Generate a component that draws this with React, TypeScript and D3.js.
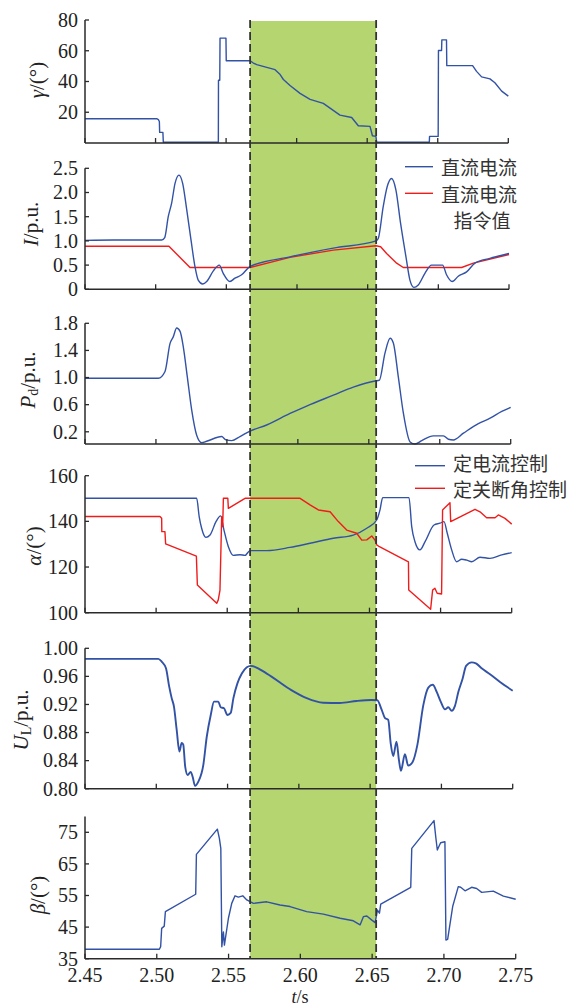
import React from 'react';
import * as d3 from 'd3';

// time axis
const tTicks = [2.45, 2.5, 2.55, 2.6, 2.65, 2.7, 2.75];
const tTickLabels = ['2.45', '2.50', '2.55', '2.60', '2.65', '2.70', '2.75'];
const shadeSpan = [2.565, 2.6528];

// γ (extinction angle)
const gamma: [number, number][] = [
  [2.45, 15.8], [2.5008, 15.8], [2.502, 15.2], [2.5027, 14], [2.5029, 6.9], [2.5052, 6.9], [2.5055, 0.5],
  [2.5445, 0.5], [2.5446, 40.8], [2.5455, 40.8], [2.5457, 68.2], [2.5499, 68.2], [2.5501, 53.5], [2.567, 53.5],
  [2.5693, 52], [2.5717, 51], [2.5788, 49.2], [2.5847, 47.7], [2.5883, 44.5], [2.5906, 41.3], [2.5953, 37.4],
  [2.6024, 32.3], [2.6095, 28.4], [2.6189, 25.8], [2.6307, 18.1], [2.639, 16.6], [2.6437, 11.2], [2.652, 10.8],
  [2.6537, 4.7], [2.6562, 4.3], [2.6567, 0.5], [2.694, 0.5], [2.6942, 4.3], [2.7003, 4.3], [2.7005, 60.2],
  [2.7027, 60.2], [2.7029, 67.1], [2.7062, 67.1], [2.7064, 50.3], [2.7247, 50.3], [2.7275, 46.6], [2.7311, 43],
  [2.737, 41.7], [2.7405, 39.2], [2.7453, 33.7], [2.75, 30.5],
];
const gammaTicks = [20, 40, 60, 80];
const gammaTickLabels = ['20', '40', '60', '80'];

// DC current and its order
const current: [number, number][] = [
  [2.45, 1.01], [2.47, 1.02], [2.49, 1.02], [2.5043, 1.02], [2.5064, 1.07], [2.5089, 1.5], [2.5113, 1.78],
  [2.5137, 2.19], [2.5165, 2.36], [2.5191, 2.19], [2.522, 1.64], [2.525, 1.02], [2.5278, 0.47], [2.5301, 0.19],
  [2.5333, 0.11], [2.5361, 0.16], [2.5408, 0.38], [2.545, 0.5], [2.5478, 0.33], [2.5525, 0.16], [2.5561, 0.23],
  [2.5608, 0.3], [2.5667, 0.47], [2.595, 0.67], [2.6257, 0.85], [2.6559, 1.0], [2.6575, 1.05], [2.661, 1.71],
  [2.6638, 2.12], [2.6669, 2.29], [2.67, 2.05], [2.6733, 1.36], [2.6771, 0.67], [2.6799, 0.19], [2.6827, 0.04],
  [2.6858, 0.09], [2.6905, 0.33], [2.6952, 0.5], [2.703, 0.5], [2.7058, 0.3], [2.7098, 0.16], [2.7141, 0.27],
  [2.72, 0.36], [2.7259, 0.54], [2.7365, 0.64], [2.75, 0.74],
];
const currentOrder: [number, number][] = [
  [2.45, 0.89], [2.5094, 0.89], [2.5243, 0.45], [2.5667, 0.45], [2.595, 0.66], [2.6257, 0.81], [2.6559, 0.9],
  [2.6592, 0.88], [2.6634, 0.74], [2.6705, 0.54], [2.6752, 0.45], [2.7165, 0.45], [2.7248, 0.54], [2.75, 0.72],
];
const currentTicks = [0, 0.5, 1, 1.5, 2, 2.5];
const currentTickLabels = ['0', '0.5', '1.0', '1.5', '2.0', '2.5'];

// DC power
const power: [number, number][] = [
  [2.45, 0.99], [2.5017, 0.99], [2.5064, 1.09], [2.5099, 1.5], [2.5122, 1.6], [2.5146, 1.73], [2.517, 1.68],
  [2.5193, 1.45], [2.5221, 1.01], [2.5252, 0.52], [2.5287, 0.15], [2.5322, 0.04], [2.5357, 0.06], [2.5463, 0.13],
  [2.5493, 0.08], [2.5534, 0.07], [2.5592, 0.13], [2.5663, 0.21], [2.578, 0.3], [2.5945, 0.47], [2.6062, 0.58],
  [2.625, 0.74], [2.6391, 0.86], [2.6544, 0.95], [2.6574, 0.96], [2.6614, 1.36], [2.665, 1.58], [2.6673, 1.51],
  [2.6708, 1.01], [2.6744, 0.47], [2.6791, 0.05], [2.6826, 0.02], [2.6873, 0.07], [2.6955, 0.14], [2.7026, 0.14],
  [2.7061, 0.09], [2.7096, 0.08], [2.7167, 0.18], [2.7272, 0.32], [2.7355, 0.4], [2.7437, 0.5], [2.75, 0.56],
];
const powerTicks = [0.2, 0.6, 1.0, 1.4, 1.8];
const powerTickLabels = ['0.2', '0.6', '1.0', '1.4', '1.8'];

// firing angle α
const alphaCC: [number, number][] = [
  [2.45, 150.1], [2.5285, 150.1], [2.5303, 142], [2.532, 137], [2.535, 133], [2.5379, 134], [2.5421, 139.9],
  [2.5454, 142.4], [2.5477, 136.2], [2.5508, 128.9], [2.5543, 125.1], [2.559, 125.4], [2.5625, 125.1],
  [2.566, 127.2], [2.5778, 127.2], [2.5941, 128.6], [2.6082, 130.4], [2.6246, 132.6], [2.6386, 134],
  [2.6481, 137], [2.6551, 140.6], [2.6574, 145], [2.6593, 150.4], [2.6778, 150.4], [2.6797, 137.7],
  [2.682, 131.1], [2.6855, 127.5], [2.6891, 131.1], [2.6954, 138.4], [2.6996, 139.2], [2.7024, 139.9],
  [2.7047, 134.8], [2.7078, 127.5], [2.7113, 122.3], [2.7148, 123.4], [2.7184, 123], [2.7219, 122.3],
  [2.7277, 124.3], [2.7347, 123.8], [2.743, 125.3], [2.75, 126.3],
];
const alphaCEA: [number, number][] = [
  [2.45, 142.1], [2.5027, 142.1], [2.5039, 141.4], [2.504, 135.5], [2.5062, 135.5], [2.5067, 130.1],
  [2.5283, 124.8], [2.529, 112.1], [2.5426, 104.1], [2.5437, 105.6], [2.5449, 109.9], [2.5461, 142],
  [2.5468, 137.7], [2.5473, 150.1], [2.5504, 150.1], [2.5508, 145.7], [2.5625, 150.1], [2.6012, 150.1],
  [2.6082, 147.2], [2.6141, 145], [2.6223, 144.2], [2.6281, 139.9], [2.634, 136.2], [2.641, 134.8],
  [2.6446, 131.8], [2.6481, 131.9], [2.6516, 133.6], [2.6539, 131.8], [2.6551, 129.7], [2.657, 128.9],
  [2.6774, 122.3], [2.6776, 109.9], [2.693, 101.5], [2.6944, 109.9], [2.696, 110.7], [2.6976, 108.5],
  [2.7007, 108.2], [2.7014, 145], [2.7066, 148.2], [2.7071, 139.9], [2.7242, 145.3], [2.7277, 144.2],
  [2.7324, 141.6], [2.7383, 141.6], [2.7406, 142.8], [2.7453, 141.3], [2.75, 138.8],
];
const alphaTicks = [100, 120, 140, 160];
const alphaTickLabels = ['100', '120', '140', '160'];

// AC bus voltage
const voltage: [number, number][] = [
  [2.45, 0.985], [2.5014, 0.985], [2.5038, 0.981], [2.5068, 0.9715], [2.5091, 0.945], [2.5108, 0.929],
  [2.5124, 0.917], [2.5143, 0.884], [2.5162, 0.853], [2.5178, 0.865], [2.5189, 0.863], [2.5203, 0.831],
  [2.522, 0.8195], [2.5241, 0.824], [2.5255, 0.817], [2.5272, 0.804], [2.5295, 0.81], [2.533, 0.834],
  [2.5354, 0.874], [2.5382, 0.905], [2.5405, 0.924], [2.5435, 0.924], [2.5452, 0.916], [2.5475, 0.9145],
  [2.5499, 0.905], [2.5522, 0.908], [2.5541, 0.929], [2.5569, 0.95], [2.56, 0.964], [2.5635, 0.973],
  [2.5663, 0.975], [2.5775, 0.964], [2.5938, 0.9416], [2.6055, 0.929], [2.6171, 0.9225], [2.6288, 0.922],
  [2.6405, 0.925], [2.651, 0.9264], [2.655, 0.926], [2.658, 0.913], [2.6603, 0.901], [2.6627, 0.898],
  [2.6644, 0.865], [2.6662, 0.8466], [2.6685, 0.867], [2.6702, 0.841], [2.6716, 0.8256], [2.6744, 0.849],
  [2.6767, 0.8328], [2.6798, 0.838], [2.6831, 0.862], [2.6873, 0.919], [2.6908, 0.944], [2.6939, 0.948],
  [2.6967, 0.938], [2.6995, 0.924], [2.7025, 0.913], [2.7048, 0.916], [2.7072, 0.911], [2.7095, 0.918],
  [2.7119, 0.938], [2.7149, 0.957], [2.7173, 0.975], [2.7212, 0.98], [2.7242, 0.9786], [2.7282, 0.9715],
  [2.7341, 0.963], [2.7411, 0.952], [2.75, 0.9396],
];
const voltageTicks = [0.8, 0.84, 0.88, 0.92, 0.96, 1.0];
const voltageTickLabels = ['0.80', '0.84', '0.88', '0.92', '0.96', '1.00'];

// advance angle β
const beta: [number, number][] = [
  [2.45, 38], [2.5018, 38], [2.5027, 38.8], [2.5034, 44.6], [2.5052, 45.3], [2.506, 49.9], [2.5271, 55.4],
  [2.5276, 68], [2.5422, 76], [2.5436, 73.1], [2.5446, 69.9], [2.5453, 38.8], [2.5464, 43.5], [2.5471, 39.3],
  [2.5499, 47.8], [2.5522, 52.5], [2.5545, 54.9], [2.5568, 54.5], [2.5599, 54.9], [2.5627, 53.6],
  [2.5673, 52.5], [2.5766, 53], [2.5858, 52], [2.5928, 51.5], [2.6044, 49.9], [2.616, 49.1], [2.6277, 47.8],
  [2.6369, 47], [2.6416, 45.7], [2.6439, 48.3], [2.6463, 48.5], [2.6498, 47.2], [2.6521, 46.4],
  [2.6537, 50.4], [2.6551, 49.4], [2.656, 52.3], [2.6769, 57.6], [2.6776, 69.9], [2.6931, 78.7],
  [2.6943, 73.6], [2.6954, 69.4], [2.6977, 71.7], [2.7007, 72], [2.7014, 40.9], [2.7026, 41.1],
  [2.7061, 51.5], [2.71, 57.8], [2.7117, 57.6], [2.7147, 56.5], [2.7193, 57.6], [2.7228, 57.2],
  [2.7263, 56], [2.7344, 56.4], [2.7414, 54.8], [2.75, 53.8],
];
const betaTicks = [35, 45, 55, 65, 75];
const betaTickLabels = ['35', '45', '55', '65', '75'];

const BLUE = '#3252a6';
const RED = '#f01c1c';
const AXIS = '#2a2a2a';
const SERIF = '"Liberation Serif", "Times New Roman", serif';
const CJK = '"Noto Sans CJK SC", sans-serif';

const App = () => {
  const W = 581;
  const H = 1007;
  const left = 85;

  const panels = [
    {
      range: [143, 20], right: 508.3, domain: [0, 80], ticks: gammaTicks, tickLabels: gammaTickLabels,
      label: <><tspan fontStyle="italic">γ</tspan>/(°)</>, lx: 37, ly: 80, width: 1.4,
      series: [{ data: gamma, color: BLUE, curve: d3.curveLinear }],
    },
    {
      range: [289.3, 168.3], right: 509, domain: [0, 2.5], ticks: currentTicks, tickLabels: currentTickLabels,
      label: <><tspan fontStyle="italic">I</tspan>/p.u.</>, lx: 31, ly: 224, width: 1.4,
      series: [
        { data: currentOrder, color: RED, curve: d3.curveLinear },
        { data: current, color: BLUE, curve: d3.curveMonotoneX },
      ],
    },
    {
      range: [444, 323.3], right: 510.7, domain: [0.02, 1.8], ticks: powerTicks, tickLabels: powerTickLabels,
      label: <><tspan fontStyle="italic">P</tspan><tspan fontSize={14} dy={5}>d</tspan><tspan dy={-5}>/p.u.</tspan></>,
      lx: 28, ly: 380, width: 1.4,
      series: [{ data: power, color: BLUE, curve: d3.curveMonotoneX }],
    },
    {
      range: [612.7, 475.7], right: 511.7, domain: [100, 160], ticks: alphaTicks, tickLabels: alphaTickLabels,
      label: <><tspan fontStyle="italic">α</tspan>/(°)</>, lx: 34, ly: 546, width: 1.4,
      series: [
        { data: alphaCC, color: BLUE, curve: d3.curveMonotoneX },
        { data: alphaCEA, color: RED, curve: d3.curveLinear },
      ],
    },
    {
      range: [788.7, 648.3], right: 512.7, domain: [0.8, 1.0], ticks: voltageTicks, tickLabels: voltageTickLabels,
      label: <><tspan fontStyle="italic">U</tspan><tspan fontSize={14} dy={5}>L</tspan><tspan dy={-5}>/p.u.</tspan></>,
      lx: 21, ly: 720, width: 1.9,
      series: [{ data: voltage, color: BLUE, curve: d3.curveMonotoneX }],
    },
    {
      range: [958.7, 816.5], right: 515.7, domain: [35, 80], ticks: betaTicks, tickLabels: betaTickLabels,
      label: <><tspan fontStyle="italic">β</tspan>/(°)</>, lx: 38, ly: 895, width: 1.4,
      series: [{ data: beta, color: BLUE, curve: d3.curveLinear }],
    },
  ];

  // shading and dashed markers use the bottom panel's time scale
  const xBottom = d3.scaleLinear().domain([2.45, 2.75]).range([left, panels[5].right]);
  const sx0 = xBottom(shadeSpan[0]);
  const sx1 = xBottom(shadeSpan[1]);
  const shadeTop = 21;
  const shadeBottom = 958.7;

  return (
    <svg width={W} height={H} style={{ position: 'absolute', left: 0, top: 0, background: '#fff' }}
      fontFamily={SERIF}>
      <rect x={sx0} y={shadeTop} width={sx1 - sx0} height={shadeBottom - shadeTop} fill="#b4d56f" />

      {panels.map((p, i) => {
        const x = d3.scaleLinear().domain([2.45, 2.75]).range([left, p.right]);
        const y = d3.scaleLinear().domain(p.domain).range(p.range);
        const y0 = p.range[0];
        return (
          <g key={i}>
            {p.series.map((s, j) => {
              const line = d3.line<[number, number]>().x((d) => x(d[0])).y((d) => y(d[1])).curve(s.curve);
              return <path key={j} d={line(s.data) || ''} fill="none" stroke={s.color} strokeWidth={p.width}
                strokeLinejoin="round" />;
            })}
            {/* x axis */}
            <line x1={left} x2={p.right} y1={y0} y2={y0} stroke={AXIS} strokeWidth={1.5} />
            {tTicks.map((t) => (
              <line key={t} x1={x(t)} x2={x(t)} y1={y0} y2={y0 - 5} stroke={AXIS} strokeWidth={1.3} />
            ))}
            {/* y axis */}
            <line x1={left} x2={left} y1={y0} y2={p.range[1]} stroke={AXIS} strokeWidth={1.5} />
            {p.ticks.map((v, k) => (
              <g key={k}>
                <line x1={left} x2={left + 4} y1={y(v)} y2={y(v)} stroke={AXIS} strokeWidth={1.3} />
                <text x={78} y={y(v)} dy="0.34em" textAnchor="end" fontSize={20} fill="#222">
                  {p.tickLabels[k]}
                </text>
              </g>
            ))}
            <text transform={`translate(${p.lx},${p.ly}) rotate(-90)`} textAnchor="middle"
              dominantBaseline="central" fontSize={21} fill="#222">
              {p.label}
            </text>
            {i === 5 && tTicks.map((t, k) => (
              <text key={t} x={x(t)} y={982} textAnchor="middle" fontSize={20} fill="#222">
                {tTickLabels[k]}
              </text>
            ))}
          </g>
        );
      })}

      {/* dashed markers */}
      {[sx0, sx1].map((sx, i) => (
        <line key={i} x1={sx} x2={sx} y1={20} y2={shadeBottom} stroke="#333" strokeWidth={1.8}
          strokeDasharray="8,4" />
      ))}

      <text x={300} y={1003} textAnchor="middle" fontSize={18} fill="#222">
        <tspan fontStyle="italic">t</tspan>/s
      </text>

      {/* legend: current panel */}
      <line x1={405} x2={433} y1={166.7} y2={166.7} stroke={BLUE} strokeWidth={1.4} />
      <text x={441} y={166.5} dominantBaseline="central" fontSize={19} fontFamily={CJK} fill="#333">直流电流</text>
      <line x1={405} x2={433} y1={193.3} y2={193.3} stroke={RED} strokeWidth={1.4} />
      <text x={441} y={193} dominantBaseline="central" fontSize={19} fontFamily={CJK} fill="#333">直流电流</text>
      <text x={482} y={219} dominantBaseline="central" textAnchor="middle" fontSize={19} fontFamily={CJK}
        fill="#333">指令值</text>

      {/* legend: firing angle panel */}
      <line x1={415} x2={445} y1={465.7} y2={465.7} stroke={BLUE} strokeWidth={1.4} />
      <text x={453} y={462} dominantBaseline="central" fontSize={19} fontFamily={CJK} fill="#333">定电流控制</text>
      <line x1={415} x2={445} y1={488.3} y2={488.3} stroke={RED} strokeWidth={1.4} />
      <text x={453} y={488} dominantBaseline="central" fontSize={19} fontFamily={CJK} fill="#333">定关断角控制</text>
    </svg>
  );
};

export default App;
